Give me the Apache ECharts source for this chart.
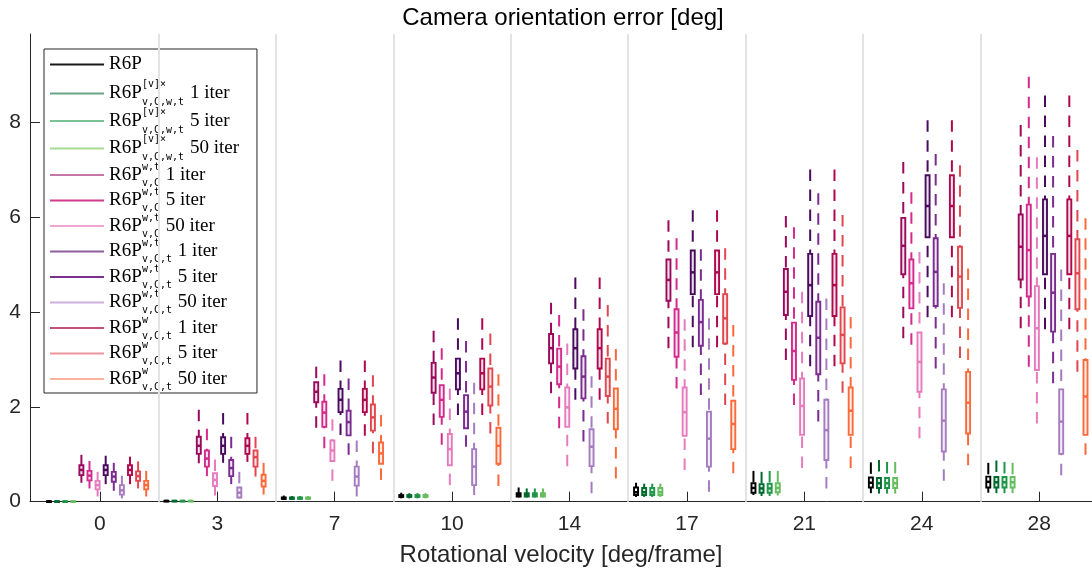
<!DOCTYPE html>
<html><head><meta charset="utf-8">
<script src="https://cdn.jsdelivr.net/npm/echarts@6/dist/echarts.min.js"></script>
<style>html,body{margin:0;padding:0;background:#fff}#c{width:1092px;height:574px}</style>
</head><body><div id="c"></div>
<script>
// Rotational velocity categories
const categories = ['0','3','7','10','14','17','21','24','28'];
const yTicks = [0, 2, 4, 6, 8];
// Each row: [whisker low, q1, median, q3, whisker high] per category
const r6p = [[0,0.003,0.006,0.01,0.015],[0.003,0.01,0.015,0.02,0.03],[0.04,0.06,0.07,0.09,0.13],[0.07,0.1,0.12,0.14,0.19],[0.09,0.11,0.14,0.18,0.3],[0.1,0.14,0.2,0.3,0.4],[0.14,0.19,0.29,0.39,0.65],[0.18,0.3,0.4,0.51,0.83],[0.19,0.3,0.42,0.53,0.82]];
const r6pV1 = [[0,0.003,0.006,0.01,0.015],[0.003,0.01,0.015,0.02,0.03],[0.04,0.06,0.07,0.09,0.12],[0.07,0.1,0.12,0.14,0.18],[0.09,0.11,0.14,0.18,0.28],[0.1,0.14,0.2,0.29,0.38],[0.12,0.19,0.28,0.37,0.63],[0.17,0.29,0.39,0.5,0.88],[0.18,0.3,0.41,0.52,0.87]];
const r6pV5 = [[0,0.003,0.006,0.01,0.015],[0.003,0.01,0.015,0.02,0.03],[0.04,0.06,0.07,0.09,0.12],[0.07,0.1,0.12,0.14,0.18],[0.09,0.11,0.14,0.18,0.28],[0.1,0.14,0.2,0.29,0.38],[0.12,0.19,0.28,0.38,0.65],[0.17,0.29,0.39,0.5,0.84],[0.18,0.3,0.41,0.52,0.84]];
const r6pV50 = [[0,0.003,0.006,0.01,0.015],[0.003,0.01,0.015,0.02,0.03],[0.04,0.06,0.07,0.09,0.12],[0.07,0.1,0.12,0.14,0.18],[0.09,0.11,0.14,0.18,0.28],[0.1,0.14,0.2,0.29,0.38],[0.13,0.2,0.29,0.39,0.65],[0.17,0.29,0.39,0.5,0.84],[0.18,0.3,0.41,0.52,0.82]];
const r6pWtVC1 = [[0.40,0.56,0.67,0.77,0.99],[0.81,1.01,1.18,1.37,1.94],[1.56,2.10,2.32,2.52,2.85],[1.62,2.30,2.62,2.93,3.61],[2.29,2.92,3.24,3.54,4.20],[3.24,4.24,4.68,5.11,5.94],[2.99,3.94,4.43,4.91,6.03],[3.45,4.80,5.40,5.99,7.17],[3.66,4.69,5.38,6.06,7.95]];
const r6pWtVC5 = [[0.28,0.45,0.55,0.65,0.86],[0.54,0.74,0.91,1.08,1.54],[1.13,1.58,1.88,2.11,2.69],[1.20,1.79,2.15,2.46,3.24],[1.55,2.48,2.85,3.23,3.94],[2.39,3.06,3.57,4.06,5.56],[2.04,2.57,3.18,3.78,5.79],[3.31,4.08,4.61,5.11,6.53],[2.85,4.33,5.31,6.27,8.97]];
const r6pWtVC50 = [[0.11,0.26,0.35,0.44,0.63],[0.13,0.33,0.46,0.60,0.89],[0.44,0.86,1.08,1.29,1.74],[0.35,0.77,1.11,1.43,2.39],[0.75,1.58,1.99,2.41,3.34],[0.67,1.39,1.89,2.41,3.85],[0.71,1.41,2.02,2.60,4.43],[1.34,2.32,2.95,3.57,5.27],[1.65,2.78,3.66,4.55,7.27]];
const r6pWtVCt1 = [[0.37,0.56,0.67,0.77,0.97],[0.82,1.01,1.18,1.36,1.87],[1.41,1.89,2.15,2.38,2.98],[1.83,2.37,2.71,3.02,3.87],[2.15,2.81,3.24,3.64,4.73],[3.26,4.38,4.84,5.30,6.15],[2.86,3.92,4.57,5.23,7.01],[3.89,5.58,6.24,6.89,8.05],[3.64,4.80,5.61,6.38,8.57]];
const r6pWtVCt5 = [[0.23,0.42,0.53,0.63,0.82],[0.37,0.54,0.71,0.88,1.37],[0.99,1.40,1.68,1.92,2.60],[1.16,1.55,1.90,2.25,3.39],[1.27,2.18,2.64,3.07,4.06],[2.25,3.29,3.79,4.26,5.33],[1.69,2.69,3.46,4.22,6.51],[2.81,4.13,4.85,5.56,7.34],[2.50,3.59,4.41,5.23,7.72]];
const r6pWtVCt50 = [[0.07,0.15,0.24,0.35,0.55],[0.07,0.09,0.19,0.30,0.63],[0.11,0.34,0.53,0.74,1.29],[0.14,0.35,0.74,1.11,2.51],[0.18,0.75,1.16,1.53,2.65],[0.21,0.74,1.33,1.90,3.87],[0.28,0.88,1.51,2.15,4.29],[0.44,1.06,1.71,2.37,4.61],[0.56,1.01,1.69,2.37,4.90]];
const r6pWVCt1 = [[0.37,0.56,0.67,0.77,0.95],[0.84,1.01,1.18,1.34,1.87],[1.39,1.89,2.15,2.38,2.98],[1.83,2.37,2.71,3.02,3.87],[2.15,2.81,3.24,3.64,4.73],[3.26,4.38,4.84,5.30,6.15],[2.86,3.92,4.57,5.23,7.01],[3.89,5.58,6.24,6.89,8.05],[3.64,4.80,5.61,6.38,8.57]];
const r6pWVCt5 = [[0.28,0.44,0.54,0.64,0.85],[0.53,0.74,0.94,1.08,1.37],[1.02,1.50,1.78,2.05,2.67],[1.44,2.03,2.43,2.81,3.55],[1.65,2.23,2.64,3.02,4.15],[2.04,3.34,3.87,4.38,5.35],[2.30,2.92,3.52,4.10,6.05],[3.03,4.09,4.75,5.38,7.10],[2.74,4.06,4.82,5.54,7.42]];
const r6pWVCt50 = [[0.11,0.26,0.35,0.44,0.65],[0.15,0.32,0.44,0.57,0.82],[0.46,0.80,1.02,1.25,1.83],[0.33,0.80,1.18,1.56,2.69],[0.49,1.53,1.96,2.39,3.22],[0.60,1.11,1.64,2.13,3.73],[0.71,1.41,1.92,2.41,3.90],[0.77,1.44,2.09,2.74,4.92],[0.99,1.41,2.22,2.99,5.98]];

const seriesData = [r6p, r6pV1, r6pV5, r6pV50, r6pWtVC1, r6pWtVC5, r6pWtVC50, r6pWtVCt1, r6pWtVCt5, r6pWtVCt50, r6pWVCt1, r6pWVCt5, r6pWVCt50];
const supText = ['', '[v]×', '[v]×', '[v]×', 'w,t', 'w,t', 'w,t', 'w,t', 'w,t', 'w,t', 'w', 'w', 'w'];
const subText = ['', 'v,C,w,t', 'v,C,w,t', 'v,C,w,t', 'v,C', 'v,C', 'v,C', 'v,C,t', 'v,C,t', 'v,C,t', 'v,C,t', 'v,C,t', 'v,C,t'];
const iterText = ['', '1 iter', '5 iter', '50 iter', '1 iter', '5 iter', '50 iter', '1 iter', '5 iter', '50 iter', '1 iter', '5 iter', '50 iter'];

// styles
const colors = ['#000000', '#006a2e', '#1f9549', '#66bd5e', '#9a0a5c', '#d42a8c', '#e67cbd', '#4a0b5e', '#7a2c8f', '#a57cc0', '#b0084d', '#e2474f', '#fb6a3b'];
const legendColors = ['#1a1a1a', '#6aa688', '#78c496', '#a3db93', '#c577a5', '#cf3f8d', '#f0a6d2', '#8e5e9e', '#7a3090', '#cdb0dc', '#c4507a', '#eb959d', '#fbb39c'];

const names = supText.map((s, i) => i === 0 ? 'R6P' : 'R6P^' + s + '_' + subText[i] + ' ' + iterText[i]);

function hexA(hex, a) {
  const n = parseInt(hex.slice(1), 16);
  return 'rgba(' + ((n >> 16) & 255) + ',' + ((n >> 8) & 255) + ',' + (n & 255) + ',' + a + ')';
}

function makeRender(si) {
  const color = colors[si];
  const fill = si === 0 ? 'rgba(255,255,255,1)' : hexA(color, 0.12);
  return function (params, api) {
    const k = api.value(0);
    const unit = api.size([1, 0])[0];
    const x = api.coord([k, 0])[0] + (si - 6.28) * 0.069 * unit;
    const yl = api.coord([k, api.value(1)])[1];
    const y1 = api.coord([k, api.value(2)])[1];
    const ym = api.coord([k, api.value(3)])[1];
    const y3 = api.coord([k, api.value(4)])[1];
    const yh = api.coord([k, api.value(5)])[1];
    const bw = 4;
    const dash = [11.5, 8.5];
    return {
      type: 'group',
      children: [
        { type: 'line', shape: { x1: x, y1: yh, x2: x, y2: y3 }, style: { stroke: color, lineWidth: 2, lineDash: dash } },
        { type: 'line', shape: { x1: x, y1: yl, x2: x, y2: y1 }, style: { stroke: color, lineWidth: 2, lineDash: dash } },
        { type: 'rect', shape: { x: x - bw / 2, y: y3, width: bw, height: Math.max(y1 - y3, 0.8) }, style: { fill: fill, stroke: color, lineWidth: 1.9 } },
        { type: 'rect', shape: { x: x - bw / 2, y: ym - 1.25, width: bw, height: 2.5 }, style: { fill: color } }
      ]
    };
  };
}

const monoW = 6.02;
function legendLabel(name) {
  const i = names.indexOf(name);
  if (i === 0) return '{pd0| }{sp0| }\n{b0|R6P}\n{pd0| }{sb0| }';
  const v = i <= 3 ? '2' : '';
  const subW = subText[i].length;
  return '{pd' + v + '| }{sp' + v + '|' + supText[i] + '}\n' +
         '{b' + v + '|R6P}{pw' + subW + v + '| }{t' + v + '| ' + iterText[i] + '}\n' +
         '{pd' + v + '| }{sb' + v + '|' + subText[i] + '}';
}

const serif = 'Liberation Serif';
const mono = 'DejaVu Sans Mono';
const rich = {};
[['', 6.5, 9.5], ['2', 9, 9], ['0', 10.5, 10.5]].forEach(([v, a, m]) => {
  rich['pd' + v] = { width: 33, lineHeight: a, fontSize: 10, fontFamily: mono };
  rich['sp' + v] = { fontFamily: mono, fontSize: 10, color: '#000', lineHeight: a };
  rich['sb' + v] = { fontFamily: mono, fontSize: 10, color: '#000', lineHeight: a };
  rich['b' + v] = { fontFamily: serif, fontSize: 19, color: '#000', lineHeight: m, width: 33 };
  rich['t' + v] = { fontFamily: serif, fontSize: 19, color: '#000', lineHeight: m };
  [3, 5, 7].forEach(n => { rich['pw' + n + v] = { width: n * monoW + 1, lineHeight: m, fontSize: 10, fontFamily: mono }; });
});

const boundaries = categories.slice(0, -1).map((_, i) => i + 0.5);
const catIdx = categories.map((_, i) => i);

const series = seriesData.map((d, si) => ({
  name: names[si],
  type: 'custom',
  renderItem: makeRender(si),
  itemStyle: { color: colors[si] },
  encode: { x: 0, y: [1, 2, 3, 4, 5] },
  data: d.map((r, k) => [k].concat(r)),
  z: 3
}));
series.push({
  type: 'line', data: [], z: 1, silent: true,
  markLine: {
    silent: true, symbol: ['none', 'none'], label: { show: false }, animation: false,
    lineStyle: { color: '#e3e3e3', width: 2, type: 'solid' },
    emphasis: { disabled: true },
    data: boundaries.map(b => ({ xAxis: b }))
  }
});

const chart = echarts.init(document.getElementById('c'), null, { renderer: 'canvas' });
chart.setOption({
  animation: false,
  backgroundColor: '#fff',
  title: {
    text: 'Camera orientation error [deg]', left: 563, top: 6, textAlign: 'center', padding: 0,
    textStyle: { fontSize: 24, fontWeight: 'normal', color: '#000', fontFamily: 'Liberation Sans' }
  },
  grid: { left: 30, right: 0, top: 34, bottom: 72.3, containLabel: false },
  xAxis: {
    type: 'value', min: -0.595, max: 8.45,
    axisLine: { onZero: false, lineStyle: { color: '#262626', width: 1 } },
    axisTick: { inside: true, length: 10, customValues: catIdx, lineStyle: { color: '#262626' } },
    axisLabel: { customValues: catIdx, formatter: v => categories[Math.round(v)], fontSize: 21, color: '#262626', margin: 12, fontFamily: 'Liberation Sans' },
    splitLine: { show: false },
    name: 'Rotational velocity [deg/frame]', nameLocation: 'middle', nameGap: 42,
    nameTextStyle: { fontSize: 24, color: '#262626', fontFamily: 'Liberation Sans' }
  },
  yAxis: {
    type: 'value', min: 0, max: 9.87,
    axisLine: { show: true, onZero: false, lineStyle: { color: '#262626', width: 1 } },
    axisTick: { show: true, inside: true, length: 10, customValues: yTicks, lineStyle: { color: '#262626' } },
    axisLabel: { customValues: yTicks, fontSize: 21, color: '#262626', margin: 9, fontFamily: 'Liberation Sans' },
    splitLine: { show: false }
  },
  legend: {
    orient: 'vertical', left: 44, top: 49, padding: [0, 18, 1, 6], itemGap: -0.5,
    itemWidth: 54, itemHeight: 2, icon: 'rect', selectedMode: false,
    borderColor: '#262626', borderWidth: 1, backgroundColor: '#fff',
    data: names.map((n, i) => ({ name: n, itemStyle: { color: legendColors[i] } })),
    formatter: legendLabel,
    textStyle: { fontFamily: serif, fontSize: 19, color: '#000', rich: rich }
  },
  series: series
});
</script></body></html>
